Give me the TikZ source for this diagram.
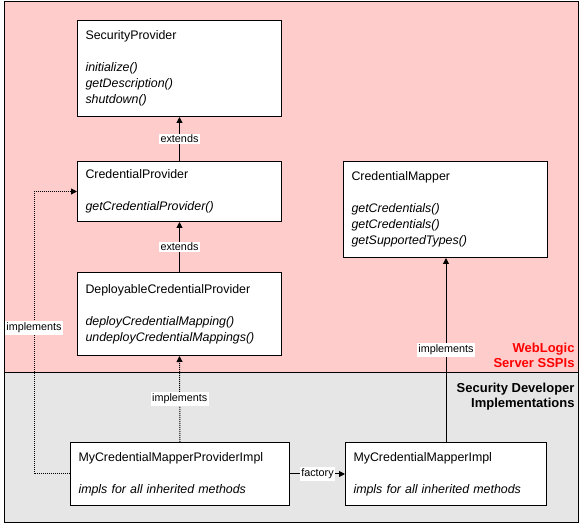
\documentclass[tikz,border=0pt]{standalone}
\usepackage{fontspec}
\setmainfont{Liberation Sans}
\usetikzlibrary{arrows.meta}
\definecolor{sspipink}{RGB}{255,204,204}
\definecolor{implgray}{RGB}{230,230,230}
\tikzset{
  classbox/.style={draw,fill=white,anchor=north west,align=left,inner xsep=8pt,inner ysep=0pt,font=\fontsize{12.4}{16}\selectfont},
  conn/.style={-{Triangle[length=6pt,width=6pt]}},
  implline/.style={conn,dash pattern=on 1pt off 1pt},
  lbl/.style={fill=white,inner sep=1.5pt,font=\fontsize{10.8}{12}\selectfont},
  layertitle/.style={anchor=north east,align=right,inner sep=0pt,font=\bfseries\fontsize{13}{15}\selectfont}
}
\begin{document}
\begin{tikzpicture}[x=1pt,y=-1pt,line width=1pt]
\useasboundingbox (0,0) rectangle (582,526);
% the two layers
\fill[sspipink] (4,2) rectangle (578,373);
\fill[implgray] (4,373) rectangle (578,523);
\draw (4,373)--(578,373);
\draw (4,2) rectangle (578,523);
\node[layertitle,text=red] (sspis) at (575,343) {WebLogic\\Server SSPIs};
\node[layertitle] (devimpl) at (575,383) {Security Developer\\Implementations};
% SSPI interfaces
\node[classbox,text width=188pt,minimum height=96pt] (sp) at (77,20) {SecurityProvider\\[16pt]\textit{initialize()}\\\textit{getDescription()}\\\textit{shutdown()}};
\node[classbox,text width=188pt,minimum height=60pt] (cp) at (77,161) {CredentialProvider\\[16pt]\textit{getCredentialProvider()}};
\node[classbox,text width=188pt,minimum height=83pt] (dcp) at (77,272) {DeployableCredentialProvider\\[16pt]\textit{deployCredentialMapping()}\\\textit{undeployCredentialMappings()}};
\node[classbox,text width=188pt,minimum height=96pt] (cm) at (343,161) {CredentialMapper\\[16pt]\textit{getCredentials()}\\\textit{getCredentials()}\\\textit{getSupportedTypes()}};
% implementations
\node[classbox,text width=203pt,minimum height=63pt] (mcmpi) at (70,442) {MyCredentialMapperProviderImpl\\[16pt]\textit{impls for all inherited methods}};
\node[classbox,text width=185pt,minimum height=63pt] (mcmi) at (345,442) {MyCredentialMapperImpl\\[16pt]\textit{impls for all inherited methods}};
\coordinate (rail) at (34,328);
\draw[conn] (cp.north) -- node[lbl] {extends} (sp.south);
\draw[conn] (dcp.north) -- node[lbl] {extends} (cp.south);
\draw[implline] (mcmpi.north) -- node[lbl] {implements} (dcp.south);
\draw[implline] (mcmpi.west) -| (rail) |- (cp.west);
\node[lbl] at (rail) {implements};
\draw[conn] (mcmi.north) -- node[lbl] {implements} (mcmi.north |- cm.south);
\draw[conn] (mcmpi.east) -- node[lbl] {factory} (mcmi.west);
\end{tikzpicture}
\end{document}
